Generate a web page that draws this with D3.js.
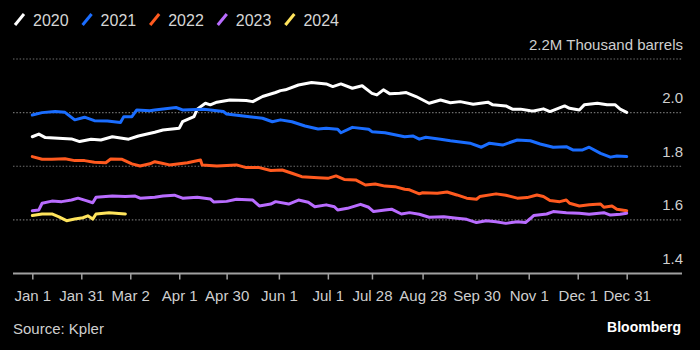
<!DOCTYPE html>
<html>
<head>
<meta charset="utf-8">
<script src="https://cdn.jsdelivr.net/npm/d3@7"></script>
<style>
  html, body { margin: 0; padding: 0; background: #000; }
  svg { display: block; font-family: "Liberation Sans", Arial, sans-serif; }
</style>
</head>
<body>
<div id="plot"></div>
<script>
// day of year (0 = Jan 1) and level in million barrels
var s2020 = [[0,1.910],[4,1.920],[8,1.907],[16,1.904],[24,1.902],[29,1.892],[36,1.901],[42,1.898],[49,1.910],[59,1.901],[65,1.913],[75,1.927],[80,1.935],[90,1.942],[92,1.966],[99,1.985],[101,2.013],[106,2.035],[109,2.029],[113,2.039],[121,2.047],[131,2.045],[135,2.041],[141,2.060],[149,2.075],[152,2.082],[155,2.085],[163,2.103],[171,2.112],[180,2.107],[184,2.097],[189,2.107],[196,2.091],[202,2.100],[208,2.072],[211,2.066],[215,2.085],[219,2.070],[225,2.072],[229,2.075],[235,2.060],[243,2.035],[250,2.047],[256,2.037],[262,2.041],[270,2.031],[279,2.039],[282,2.029],[290,2.025],[294,2.013],[299,2.013],[305,2.007],[307,2.006],[313,2.014],[317,2.004],[326,2.025],[329,2.016],[335,2.010],[338,2.029],[346,2.035],[352,2.029],[357,2.029],[360,2.013],[364,2.001]];

var s2021 = [[0,1.991],[6,2.000],[14,2.004],[20,2.001],[26,1.973],[32,1.983],[38,1.970],[46,1.969],[54,1.963],[56,1.985],[61,1.985],[64,2.010],[72,2.007],[75,2.010],[88,2.019],[92,2.010],[105,2.013],[117,2.004],[119,1.995],[133,1.985],[141,1.979],[147,1.966],[152,1.973],[159,1.966],[167,1.950],[175,1.939],[180,1.942],[187,1.938],[189,1.925],[196,1.945],[206,1.938],[208,1.929],[216,1.925],[228,1.910],[233,1.913],[237,1.901],[241,1.908],[250,1.901],[256,1.895],[268,1.886],[275,1.871],[280,1.886],[288,1.879],[297,1.898],[305,1.895],[311,1.883],[319,1.871],[327,1.873],[331,1.861],[337,1.861],[341,1.871],[348,1.848],[354,1.834],[358,1.838],[364,1.836]];

var s2022 = [[0,1.836],[6,1.826],[12,1.826],[20,1.828],[26,1.821],[32,1.821],[38,1.815],[45,1.813],[48,1.827],[55,1.826],[61,1.809],[66,1.801],[72,1.809],[75,1.817],[78,1.813],[84,1.805],[95,1.813],[103,1.823],[104,1.805],[113,1.801],[125,1.805],[131,1.795],[139,1.795],[146,1.784],[153,1.786],[159,1.774],[165,1.761],[175,1.757],[181,1.755],[186,1.764],[191,1.751],[198,1.749],[204,1.730],[210,1.734],[216,1.726],[222,1.724],[228,1.714],[231,1.712],[237,1.697],[239,1.701],[248,1.699],[254,1.704],[260,1.693],[266,1.681],[272,1.677],[274,1.687],[284,1.697],[290,1.692],[297,1.681],[303,1.683],[309,1.693],[313,1.687],[317,1.672],[323,1.668],[327,1.674],[329,1.662],[335,1.652],[341,1.656],[348,1.659],[350,1.647],[355,1.652],[358,1.640],[364,1.634]];

var s2023 = [[0,1.634],[4,1.637],[6,1.662],[12,1.670],[18,1.668],[24,1.674],[28,1.681],[33,1.672],[37,1.664],[39,1.684],[49,1.689],[57,1.687],[63,1.689],[66,1.681],[75,1.684],[80,1.689],[87,1.692],[92,1.681],[101,1.684],[109,1.678],[111,1.667],[119,1.669],[125,1.677],[135,1.674],[139,1.652],[146,1.659],[149,1.668],[157,1.659],[163,1.674],[169,1.666],[173,1.649],[180,1.656],[185,1.649],[187,1.637],[193,1.643],[201,1.658],[206,1.647],[209,1.631],[216,1.637],[220,1.640],[226,1.622],[231,1.627],[237,1.621],[243,1.610],[252,1.612],[260,1.606],[266,1.602],[272,1.590],[278,1.597],[284,1.593],[290,1.587],[297,1.593],[302,1.590],[305,1.605],[307,1.616],[315,1.622],[319,1.631],[327,1.627],[335,1.625],[341,1.621],[350,1.627],[354,1.618],[360,1.621],[364,1.625]];

var s2024 = [[0,1.616],[6,1.622],[12,1.622],[16,1.612],[21,1.597],[26,1.603],[31,1.608],[34,1.615],[37,1.603],[39,1.622],[47,1.627],[51,1.625],[57,1.622]];

var seriesNames = ['2020', '2021', '2022', '2023', '2024'];
var seriesColors = ['#ffffff', '#1a6dff', '#ff5a1f', '#b96cff', '#ffe45c'];
var allSeries = [s2020, s2021, s2022, s2023, s2024];

var xTickDays = [0, 30, 60, 90, 119, 151, 181, 208, 239, 272, 304, 334, 364];
var xTickLabels = ['Jan 1', 'Jan 31', 'Mar 2', 'Apr 1', 'Apr 30', 'Jun 1', 'Jul 1', 'Jul 28', 'Aug 28', 'Sep 30', 'Nov 1', 'Dec 1', 'Dec 31'];
var yTicks = [1.4, 1.6, 1.8, 2.0, 2.2];
var yUnit = 'M Thousand barrels';

var width = 700, height = 350;
var left = 13, right = 682;

var svg = d3.select('#plot').append('svg')
  .attr('width', width)
  .attr('height', height);

svg.append('rect').attr('width', width).attr('height', height).attr('fill', '#000');

var x = d3.scaleLinear().domain([0, 364]).range([32.3, 626.7]);
var y = d3.scaleLinear().domain([1.4, 2.2]).range([273.5, 59]);

// grid lines (dotted), the bottom one is the solid axis line
svg.selectAll('line.grid')
  .data(yTicks.filter(function(d) { return d > 1.4; }))
  .enter()
  .append('line')
  .attr('class', 'grid')
  .attr('x1', left).attr('x2', right)
  .attr('y1', function(d) { return y(d); })
  .attr('y2', function(d) { return y(d); })
  .style('stroke', '#6e6e6e')
  .style('stroke-width', 1.2)
  .style('stroke-dasharray', '1.5,1.8');

// y labels sit above their grid line at the right
svg.selectAll('text.ylab')
  .data(yTicks)
  .enter()
  .append('text')
  .attr('class', 'ylab')
  .attr('x', right + 1)
  .attr('y', function(d) { return y(d) - 9.5; })
  .attr('text-anchor', 'end')
  .style('fill', '#cfcfcf')
  .style('font-size', '15px')
  .text(function(d) { return d == 2.2 ? d.toFixed(1) + yUnit : d.toFixed(1); });

// x axis
svg.append('line')
  .attr('x1', left).attr('x2', right)
  .attr('y1', y(1.4)).attr('y2', y(1.4))
  .style('stroke', '#a0a0a0')
  .style('stroke-width', 2);

var xAxis = svg.append('g')
  .attr('transform', 'translate(0,' + y(1.4) + ')')
  .call(d3.axisBottom(x)
    .tickValues(xTickDays)
    .tickSize(6)
    .tickPadding(11)
    .tickFormat(function(d, i) { return xTickLabels[i]; }));

xAxis.select('.domain').remove();
xAxis.selectAll('.tick line').style('stroke', '#a0a0a0').style('stroke-width', 1.5);
xAxis.selectAll('.tick text')
  .style('fill', '#cfcfcf')
  .style('font-size', '15px')
  .style('font-family', '"Liberation Sans", Arial, sans-serif');

// series lines
var line = d3.line()
  .x(function(d) { return x(d[0]); })
  .y(function(d) { return y(d[1]); });

svg.selectAll('path.series')
  .data(allSeries)
  .enter()
  .append('path')
  .attr('class', 'series')
  .attr('d', line)
  .style('fill', 'none')
  .style('stroke', function(d, i) { return seriesColors[i]; })
  .style('stroke-width', 3)
  .style('stroke-linejoin', 'round')
  .style('stroke-linecap', 'round');

// legend
var lx = 14;
seriesNames.forEach(function(name, i) {
  svg.append('line')
    .attr('x1', lx + 1).attr('y1', 25)
    .attr('x2', lx + 10).attr('y2', 14)
    .style('stroke', seriesColors[i])
    .style('stroke-width', 3);
  var t = svg.append('text')
    .attr('x', lx + 19)
    .attr('y', 25.7)
    .style('fill', '#d6d6d6')
    .style('font-size', '16px')
    .text(name);
  lx = lx + 19 + t.node().getComputedTextLength() + 13;
});

// footer
svg.append('text')
  .attr('x', 13)
  .attr('y', 334)
  .style('fill', '#cfcfcf')
  .style('font-size', '15px')
  .text('Source: Kpler');

svg.append('text')
  .attr('x', 681)
  .attr('y', 332)
  .attr('text-anchor', 'end')
  .style('fill', '#ffffff')
  .style('font-size', '14px')
  .style('font-weight', 'bold')
  .text('Bloomberg');
</script>
</body>
</html>
